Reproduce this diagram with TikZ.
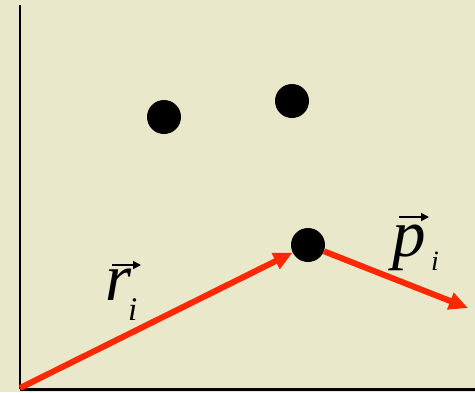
\documentclass[tikz,border=0pt]{standalone}
\usepackage{fontspec}
\setmainfont{Liberation Serif}
\usetikzlibrary{arrows.meta}
\definecolor{bgbeige}{RGB}{234,232,203}
\definecolor{vecred}{RGB}{255,40,0}
\tikzset{
  axisline/.style={draw=black,line width=2.6pt},
  particle/.style={circle,fill=black,inner sep=0pt,minimum size=34pt},
  vecarrow/.style={draw=vecred,line width=6pt,-{Triangle[length=19pt,width=17pt]}},
  bigsym/.style={inner sep=0pt,anchor=base west,font=\fontsize{67}{67}\selectfont\itshape},
  subsym/.style={inner sep=0pt,anchor=base west},
  overarrow/.style={draw=black,line width=1.8pt,-{Triangle[length=8pt,width=8pt]}}
}
\begin{document}
\begin{tikzpicture}[x=1pt,y=-1pt]
\fill[bgbeige] (0,0) rectangle (475,392);
\useasboundingbox (0,0) rectangle (475,392);
% axes
\coordinate (ytop) at (20,5);
\coordinate (orig) at (20,389);
\coordinate (xend) at (475,389);
\draw[axisline] (ytop) -- (orig);
\draw[axisline,line width=3pt] (orig) -- (xend);
% particles
\node[particle] (d1) at (164,117) {};
\node[particle] (d2) at (292,101) {};
\node[particle] (d3) at (308,245) {};
% vectors
\coordinate (rstart) at (20,388);
\coordinate (pend) at (468,308);
\draw[vecarrow] (rstart) -- (d3);
\draw[vecarrow] (d3) -- (pend);
% labels
\node[bigsym] (rlbl) at (105,300) {r};
\node[subsym,font=\fontsize{33}{33}\selectfont\itshape] (rsub) at (128,320) {i};
\coordinate (ra1) at (112,265);
\coordinate (ra2) at (141,265);
\draw[overarrow] (ra1) -- (ra2);
\node[bigsym] (plbl) at (392,256) {p};
\node[subsym,font=\fontsize{28}{28}\selectfont\itshape] (psub) at (431,270) {i};
\coordinate (pa1) at (399,217);
\coordinate (pa2) at (429,217);
\draw[overarrow] (pa1) -- (pa2);
\end{tikzpicture}
\end{document}
